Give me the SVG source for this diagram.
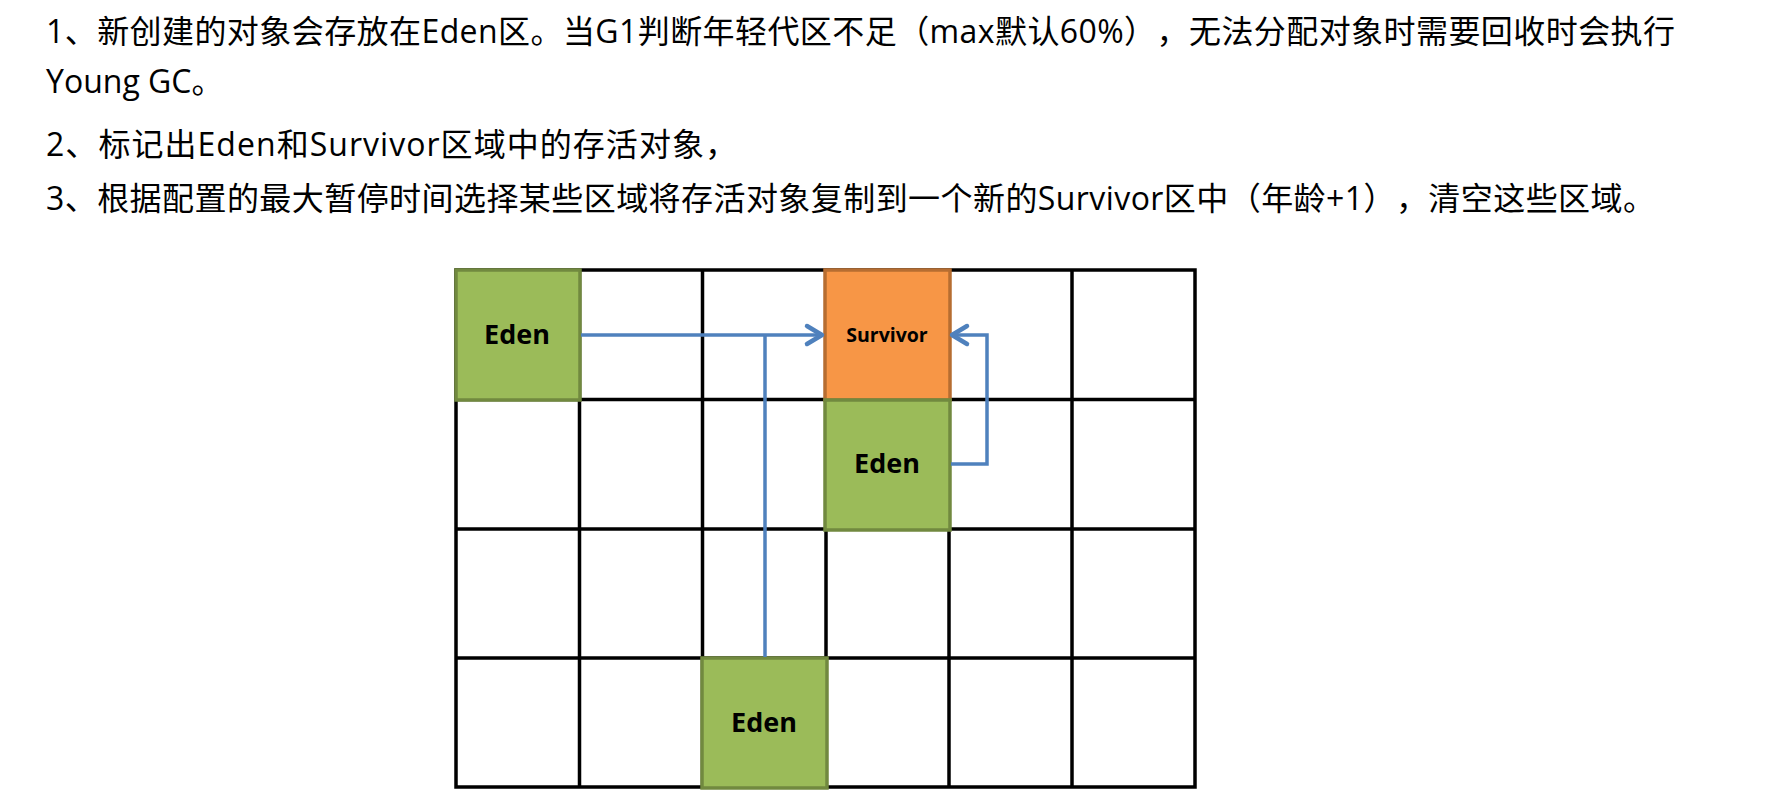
<svg xmlns="http://www.w3.org/2000/svg" width="1784" height="794" viewBox="0 0 1784 794">
<style>
.t{font-family:"Open Sans","Noto Sans CJK SC",sans-serif;font-size:32px;fill:#000;text-spacing-trim:space-all}
.grid{stroke:#000;stroke-width:3.5;fill:none}
.eden{fill:#9BBB59;stroke:#71893F;stroke-width:3.5}
.surv{fill:#F79646;stroke:#B66D31;stroke-width:3.5}
.lbl{font-family:"Open Sans","Liberation Sans",sans-serif;font-weight:700;fill:#000;text-anchor:middle}
.conn{fill:none;stroke:#4F81BD;stroke-width:3.5;stroke-linejoin:miter}
</style>
<defs>
<marker id="chev" markerUnits="userSpaceOnUse" viewBox="-20 -12 24 24" refX="0" refY="0" markerWidth="24" markerHeight="24" orient="auto" overflow="visible">
<path d="M -15 -9 L 0 0 L -15 9" fill="none" stroke="#4F81BD" stroke-width="4.5" stroke-linecap="round" stroke-linejoin="round"/>
</marker>
</defs>
<rect width="1784" height="794" fill="#fff"/>
<g id="text">
<text class="t" x="46" y="43" textLength="1629" lengthAdjust="spacing">1、新创建的对象会存放在Eden区。当G1判断年轻代区不足（max默认60%），无法分配对象时需要回收时会执行</text>
<text class="t" x="46" y="93">Young GC。</text>
<text class="t" x="46" y="156" textLength="691" lengthAdjust="spacing">2、标记出Eden和Survivor区域中的存活对象，</text>
<text class="t" x="46" y="210" textLength="1609" lengthAdjust="spacing">3、根据配置的最大暂停时间选择某些区域将存活对象复制到一个新的Survivor区中（年龄+1），清空这些区域。</text>
</g>
<g id="grid" class="grid">
<rect x="456" y="270" width="739" height="517"/>
<line x1="579.5" y1="270" x2="579.5" y2="787"/>
<line x1="702.5" y1="270" x2="702.5" y2="787"/>
<line x1="826" y1="270" x2="826" y2="787"/>
<line x1="949" y1="270" x2="949" y2="787"/>
<line x1="1072" y1="270" x2="1072" y2="787"/>
<line x1="456" y1="399.5" x2="1195" y2="399.5"/>
<line x1="456" y1="529" x2="1195" y2="529"/>
<line x1="456" y1="658" x2="1195" y2="658"/>
</g>
<g id="eden1">
<rect class="eden" x="456" y="270" width="124" height="130"/>
<text class="lbl" x="517" y="344" font-size="27">Eden</text>
</g>
<g id="survivor">
<rect class="surv" x="825" y="270" width="125" height="130"/>
<text class="lbl" x="887" y="342" font-size="19.5">Survivor</text>
</g>
<g id="eden2">
<rect class="eden" x="825" y="400" width="125" height="130"/>
<text class="lbl" x="887" y="473" font-size="27">Eden</text>
</g>
<g id="eden3">
<rect class="eden" x="702" y="658" width="125" height="130"/>
<text class="lbl" x="764" y="732" font-size="27">Eden</text>
</g>
<g id="connectors">
<path class="conn" d="M 581 335 L 822 335" marker-end="url(#chev)"/>
<path class="conn" d="M 765 657 L 765 335"/>
<path class="conn" d="M 951 464 L 987 464 L 987 335 L 952 335" marker-end="url(#chev)"/>
</g>
</svg>
